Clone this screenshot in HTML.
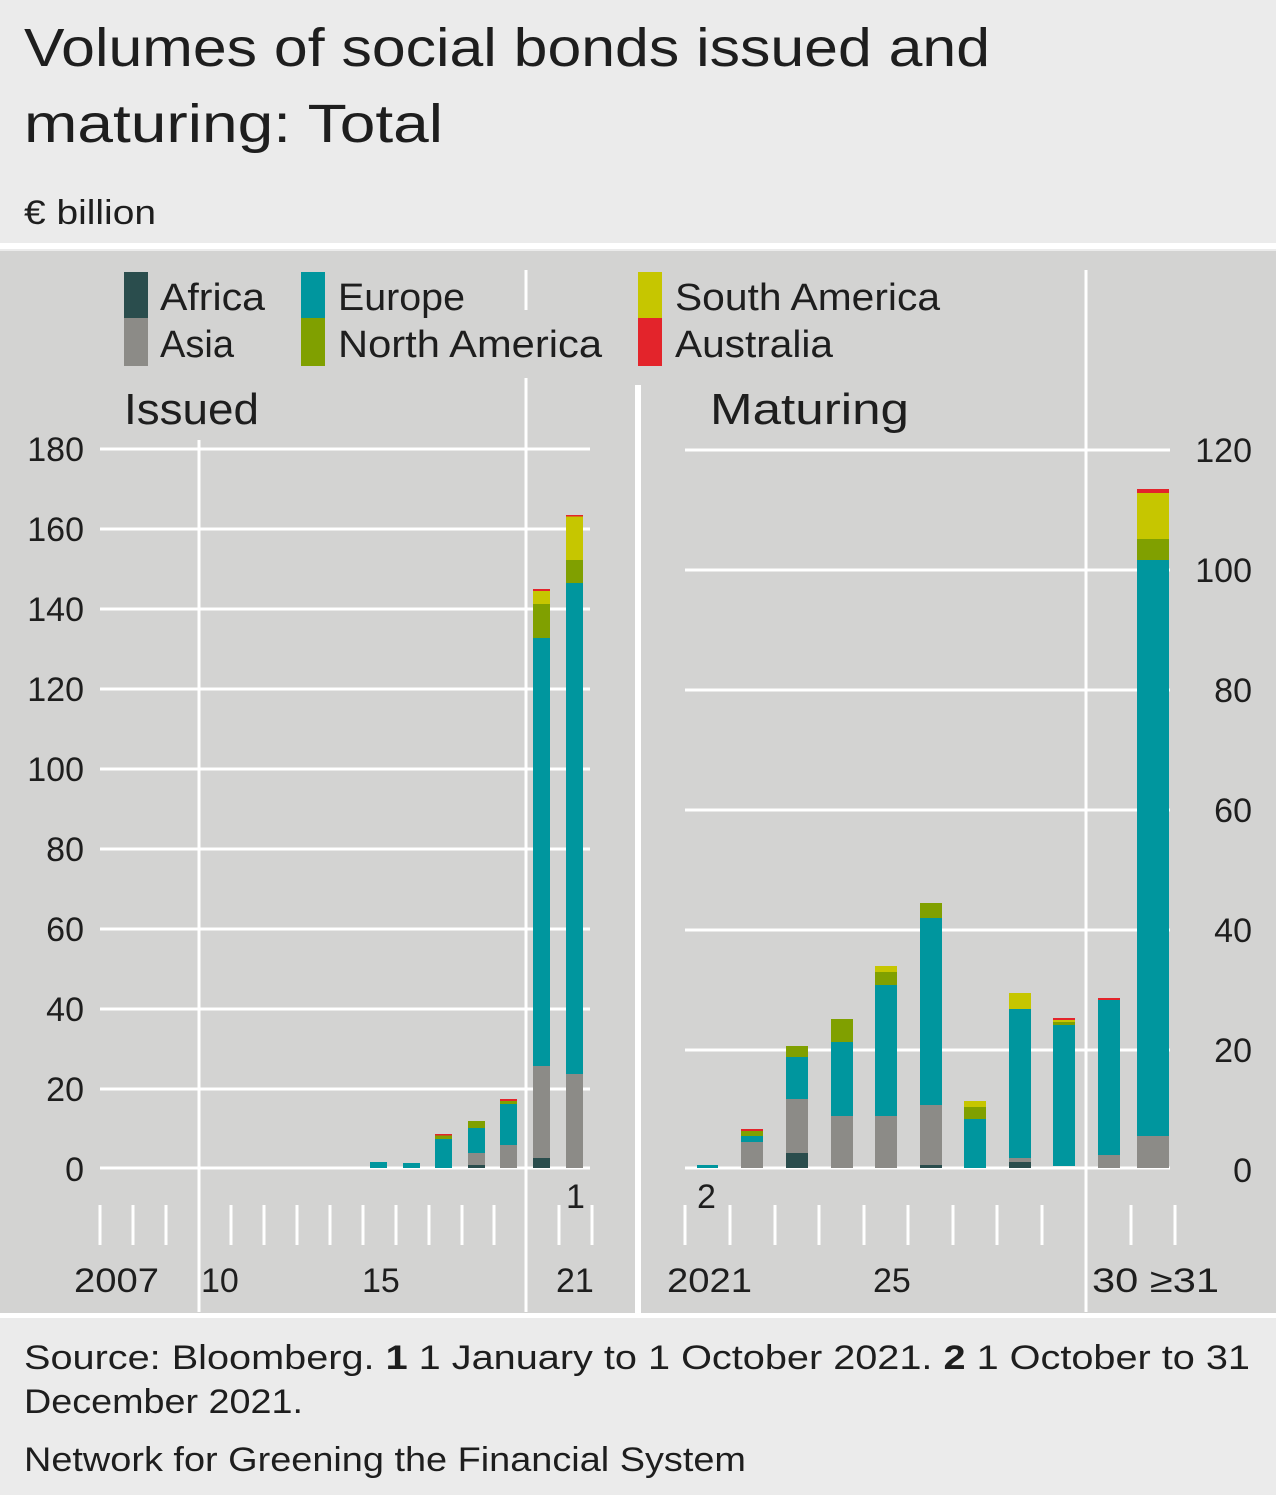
<!DOCTYPE html>
<html><head><meta charset="utf-8"><style>
html,body{margin:0;padding:0;background:#ebebeb;}
svg{display:block;font-family:"Liberation Sans",sans-serif;}
</style></head><body>
<svg width="1276" height="1495" viewBox="0 0 1276 1495" xmlns="http://www.w3.org/2000/svg">
<rect width="1276" height="1495" fill="#ebebeb"/>
<text x="24" y="66" font-size="54" fill="#1e1e1e" textLength="966" lengthAdjust="spacingAndGlyphs">Volumes of social bonds issued and</text>
<text x="24" y="142" font-size="54" fill="#1e1e1e" textLength="419" lengthAdjust="spacingAndGlyphs">maturing: Total</text>
<text x="24" y="224" font-size="34" fill="#1e1e1e" textLength="132" lengthAdjust="spacingAndGlyphs">€ billion</text>
<rect x="0" y="243" width="1276" height="6" fill="#fff"/>
<rect x="0" y="251" width="1276" height="1062" fill="#d3d3d2"/>
<rect x="0" y="1313" width="1276" height="5" fill="#fff"/>
<rect x="635" y="385" width="6" height="930" fill="#fff"/>
<g stroke="#fff" stroke-width="3">
<line x1="100" y1="449" x2="590" y2="449"/><line x1="100" y1="529" x2="590" y2="529"/><line x1="100" y1="609" x2="590" y2="609"/><line x1="100" y1="689" x2="590" y2="689"/><line x1="100" y1="769" x2="590" y2="769"/><line x1="100" y1="849" x2="590" y2="849"/><line x1="100" y1="929" x2="590" y2="929"/><line x1="100" y1="1009" x2="590" y2="1009"/><line x1="100" y1="1089" x2="590" y2="1089"/><line x1="100" y1="1168" x2="590" y2="1168"/>
<line x1="199" y1="440" x2="199" y2="1312"/><line x1="526" y1="270" x2="526" y2="310"/><line x1="526" y1="378" x2="526" y2="1312"/>
<line x1="685" y1="450" x2="1170" y2="450"/><line x1="685" y1="570" x2="1170" y2="570"/><line x1="685" y1="690" x2="1170" y2="690"/><line x1="685" y1="810" x2="1170" y2="810"/><line x1="685" y1="930" x2="1170" y2="930"/><line x1="685" y1="1050" x2="1170" y2="1050"/><line x1="685" y1="1168" x2="1170" y2="1168"/>
<line x1="1086" y1="270" x2="1086" y2="1312"/>
<g>
<line x1="100" y1="1205" x2="100" y2="1245"/><line x1="133" y1="1205" x2="133" y2="1245"/><line x1="166" y1="1205" x2="166" y2="1245"/><line x1="231" y1="1205" x2="231" y2="1245"/><line x1="264" y1="1205" x2="264" y2="1245"/><line x1="297" y1="1205" x2="297" y2="1245"/><line x1="330" y1="1205" x2="330" y2="1245"/><line x1="363" y1="1205" x2="363" y2="1245"/><line x1="396" y1="1205" x2="396" y2="1245"/><line x1="429" y1="1205" x2="429" y2="1245"/><line x1="462" y1="1205" x2="462" y2="1245"/><line x1="494" y1="1205" x2="494" y2="1245"/><line x1="559" y1="1205" x2="559" y2="1245"/><line x1="592" y1="1205" x2="592" y2="1245"/>
<line x1="685" y1="1205" x2="685" y2="1245"/><line x1="730" y1="1205" x2="730" y2="1245"/><line x1="775" y1="1205" x2="775" y2="1245"/><line x1="819" y1="1205" x2="819" y2="1245"/><line x1="864" y1="1205" x2="864" y2="1245"/><line x1="908" y1="1205" x2="908" y2="1245"/><line x1="953" y1="1205" x2="953" y2="1245"/><line x1="997" y1="1205" x2="997" y2="1245"/><line x1="1042" y1="1205" x2="1042" y2="1245"/><line x1="1131" y1="1205" x2="1131" y2="1245"/><line x1="1175" y1="1205" x2="1175" y2="1245"/>
</g></g>
<rect x="124" y="272" width="24" height="46" fill="#2a4d4d"/><rect x="124" y="318" width="24" height="48" fill="#8c8b87"/>
<rect x="301" y="272" width="24" height="46" fill="#00969e"/><rect x="301" y="318" width="24" height="48" fill="#80a000"/>
<rect x="638" y="272" width="24" height="46" fill="#c6c600"/><rect x="638" y="318" width="24" height="48" fill="#e3242b"/>
<g font-size="38" fill="#1e1e1e" lengthAdjust="spacingAndGlyphs">
<text x="160" y="310" textLength="105" lengthAdjust="spacingAndGlyphs">Africa</text><text x="160" y="357" textLength="74" lengthAdjust="spacingAndGlyphs">Asia</text>
<text x="338" y="310" textLength="127" lengthAdjust="spacingAndGlyphs">Europe</text><text x="338" y="357" textLength="264" lengthAdjust="spacingAndGlyphs">North America</text>
<text x="675" y="310" textLength="265" lengthAdjust="spacingAndGlyphs">South America</text><text x="675" y="357" textLength="158" lengthAdjust="spacingAndGlyphs">Australia</text>
<text x="124" y="424" font-size="44" textLength="135" lengthAdjust="spacingAndGlyphs">Issued</text><text x="710" y="424" font-size="44" textLength="199" lengthAdjust="spacingAndGlyphs">Maturing</text>
</g>
<g font-size="34" fill="#1e1e1e" text-anchor="end">
<text x="84" y="461">180</text><text x="84" y="541">160</text><text x="84" y="621">140</text><text x="84" y="701">120</text><text x="84" y="781">100</text><text x="84" y="861">80</text><text x="84" y="941">60</text><text x="84" y="1021">40</text><text x="84" y="1101">20</text><text x="84" y="1181">0</text>
</g>
<g font-size="34" fill="#1e1e1e" text-anchor="end">
<text x="1252" y="462">120</text><text x="1252" y="582">100</text><text x="1252" y="702">80</text><text x="1252" y="822">60</text><text x="1252" y="942">40</text><text x="1252" y="1062">20</text><text x="1252" y="1182">0</text>
</g>
<g font-size="34" fill="#1e1e1e">
<text x="74" y="1292" textLength="85" lengthAdjust="spacingAndGlyphs">2007</text><text x="201" y="1292">10</text><text x="362" y="1292">15</text><text x="556" y="1292">21</text><text x="566" y="1208">1</text>
<text x="667" y="1292" textLength="85" lengthAdjust="spacingAndGlyphs">2021</text><text x="873" y="1292">25</text><text x="1092" y="1292" textLength="127" lengthAdjust="spacingAndGlyphs">30 ≥31</text><text x="697" y="1208">2</text>
</g>
<g>
<rect x="370" y="1162" width="17" height="6" fill="#00969e"/>
<rect x="403" y="1163" width="17" height="5" fill="#00969e"/>
<rect x="435" y="1139" width="17" height="29" fill="#00969e"/><rect x="435" y="1135" width="17" height="4" fill="#80a000"/><rect x="435" y="1134" width="17" height="1.5" fill="#e3242b"/>
<rect x="468" y="1165" width="17" height="3" fill="#2a4d4d"/><rect x="468" y="1153" width="17" height="12" fill="#8c8b87"/><rect x="468" y="1128" width="17" height="25" fill="#00969e"/><rect x="468" y="1121" width="17" height="7" fill="#80a000"/>
<rect x="500" y="1145" width="17" height="23" fill="#8c8b87"/><rect x="500" y="1104" width="17" height="41" fill="#00969e"/><rect x="500" y="1101" width="17" height="3" fill="#80a000"/><rect x="500" y="1099" width="17" height="2" fill="#e3242b"/>
<rect x="533" y="1158" width="17" height="10" fill="#2a4d4d"/><rect x="533" y="1066" width="17" height="92" fill="#8c8b87"/><rect x="533" y="638" width="17" height="428" fill="#00969e"/><rect x="533" y="604" width="17" height="34" fill="#80a000"/><rect x="533" y="591" width="17" height="13" fill="#c6c600"/><rect x="533" y="589" width="17" height="2" fill="#e3242b"/>
<rect x="566" y="1074" width="17" height="94" fill="#8c8b87"/><rect x="566" y="583" width="17" height="491" fill="#00969e"/><rect x="566" y="560" width="17" height="23" fill="#80a000"/><rect x="566" y="516" width="17" height="44" fill="#c6c600"/><rect x="566" y="515" width="17" height="1.5" fill="#e3242b"/>
</g>
<g>
<rect x="697" y="1165" width="21" height="3" fill="#00969e"/>
<rect x="741" y="1142" width="22" height="26" fill="#8c8b87"/><rect x="741" y="1136" width="22" height="6" fill="#00969e"/><rect x="741" y="1131" width="22" height="5" fill="#80a000"/><rect x="741" y="1129" width="22" height="2" fill="#e3242b"/>
<rect x="786" y="1153" width="22" height="15" fill="#2a4d4d"/><rect x="786" y="1099" width="22" height="54" fill="#8c8b87"/><rect x="786" y="1057" width="22" height="42" fill="#00969e"/><rect x="786" y="1046" width="22" height="11" fill="#80a000"/>
<rect x="831" y="1116" width="22" height="52" fill="#8c8b87"/><rect x="831" y="1042" width="22" height="74" fill="#00969e"/><rect x="831" y="1019" width="22" height="23" fill="#80a000"/>
<rect x="875" y="1116" width="22" height="52" fill="#8c8b87"/><rect x="875" y="985" width="22" height="131" fill="#00969e"/><rect x="875" y="972" width="22" height="13" fill="#80a000"/><rect x="875" y="966" width="22" height="6" fill="#c6c600"/>
<rect x="920" y="1165" width="22" height="3" fill="#2a4d4d"/><rect x="920" y="1105" width="22" height="60" fill="#8c8b87"/><rect x="920" y="918" width="22" height="187" fill="#00969e"/><rect x="920" y="903" width="22" height="15" fill="#80a000"/>
<rect x="964" y="1119" width="22" height="49" fill="#00969e"/><rect x="964" y="1107" width="22" height="12" fill="#80a000"/><rect x="964" y="1101" width="22" height="6" fill="#c6c600"/>
<rect x="1009" y="1162" width="22" height="6" fill="#2a4d4d"/><rect x="1009" y="1158" width="22" height="4" fill="#8c8b87"/><rect x="1009" y="1009" width="22" height="149" fill="#00969e"/><rect x="1009" y="993" width="22" height="16" fill="#c6c600"/>
<rect x="1053" y="1025" width="22" height="141" fill="#00969e"/><rect x="1053" y="1022" width="22" height="3" fill="#80a000"/><rect x="1053" y="1020" width="22" height="2" fill="#c6c600"/><rect x="1053" y="1018" width="22" height="2" fill="#e3242b"/>
<rect x="1098" y="1155" width="22" height="13" fill="#8c8b87"/><rect x="1098" y="1000" width="22" height="155" fill="#00969e"/><rect x="1098" y="998" width="22" height="2" fill="#e3242b"/>
<rect x="1137" y="1136" width="32" height="32" fill="#8c8b87"/><rect x="1137" y="560" width="32" height="576" fill="#00969e"/><rect x="1137" y="539" width="32" height="21" fill="#80a000"/><rect x="1137" y="493" width="32" height="46" fill="#c6c600"/><rect x="1137" y="489" width="32" height="4" fill="#e3242b"/>
</g>
<g font-size="34" fill="#1e1e1e">
<text x="24" y="1369" textLength="1226" lengthAdjust="spacingAndGlyphs">Source: Bloomberg. <tspan font-weight="bold">1</tspan> 1 January to 1 October 2021. <tspan font-weight="bold">2</tspan> 1 October to 31</text>
<text x="24" y="1413" textLength="279" lengthAdjust="spacingAndGlyphs">December 2021.</text>
<text x="24" y="1471" textLength="722" lengthAdjust="spacingAndGlyphs">Network for Greening the Financial System</text>
</g>
</svg>
</body></html>
